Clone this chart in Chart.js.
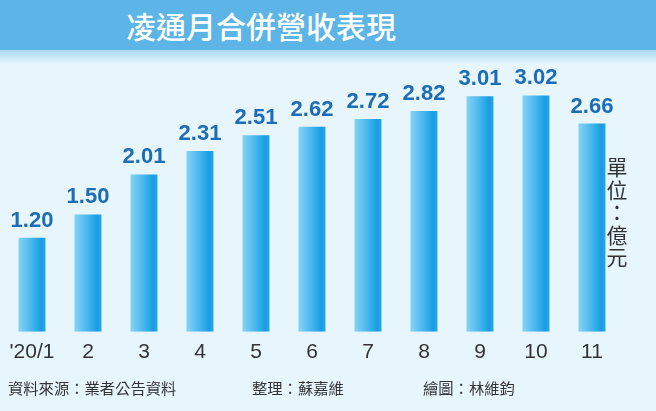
<!DOCTYPE html>
<html><head><meta charset="utf-8">
<script src="https://cdn.jsdelivr.net/npm/chart.js@4/dist/chart.umd.min.js"></script>
<style>
html,body{margin:0;padding:0;}
body{width:656px;height:411px;position:relative;overflow:hidden;background:#e7f5fc;font-family:"Noto Sans CJK TC","Noto Sans",sans-serif;}
#bar{position:absolute;left:0;top:0;width:656px;height:50px;background:#5cb5e6;}
#fade{position:absolute;left:0;top:50px;width:656px;height:14px;background:linear-gradient(#a9d8f2,#e7f5fc);}
#title{position:absolute;left:0;top:0;width:522px;height:50px;line-height:50px;text-align:center;color:#fff;font-size:30px;font-weight:500;}
#wrap{position:absolute;left:0;top:0;width:656px;height:411px;}
#unit{position:absolute;left:605px;top:155px;width:24px;font-size:21px;line-height:22.5px;color:#333;text-align:center;}
.foot{position:absolute;top:377px;font-size:15.3px;line-height:20px;color:#333;white-space:nowrap;}
</style></head>
<body>
<div id="bar"></div><div id="fade"></div>
<div id="title">凌通月合併營收表現</div>
<div id="wrap"><canvas id="c" width="656" height="411"></canvas></div>
<div id="unit">單<br>位<br>：<br>億<br>元</div>
<div class="foot" style="left:8px">資料來源：業者公告資料</div>
<div class="foot" style="left:252px">整理：蘇嘉維</div>
<div class="foot" style="left:423px">繪圖：林維鈞</div>
<script>
const categories = ["'20/1","2","3","4","5","6","7","8","9","10","11"];
const revenue = [1.20,1.50,2.01,2.31,2.51,2.62,2.72,2.82,3.01,3.02,2.66];
const BAR_PCT = 0.48;

function barGradient(context){
  const chart = context.chart;
  const xs = chart.scales && chart.scales.x;
  if (!xs || context.dataIndex == null) return '#4ab9ee';
  const cx = xs.getPixelForValue(context.dataIndex);
  const step = xs.getPixelForValue(1) - xs.getPixelForValue(0);
  if (!isFinite(cx) || !isFinite(step) || step <= 0) return '#4ab9ee';
  const w = step * BAR_PCT;
  const g = chart.ctx.createLinearGradient(cx - w/2, 0, cx + w/2, 0);
  g.addColorStop(0,'#86d3f4');
  g.addColorStop(0.45,'#4ab9ee');
  g.addColorStop(0.85,'#179ce2');
  g.addColorStop(1,'#2aa6e6');
  return g;
}

const labelPlugin = {
  id:'vals',
  afterDatasetsDraw(chart){
    const ctx = chart.ctx;
    ctx.save();
    ctx.fillStyle = '#1c6db6';
    ctx.font = 'bold 22px "Liberation Sans", Arial, sans-serif';
    ctx.textAlign = 'center';
    ctx.textBaseline = 'alphabetic';
    chart.getDatasetMeta(0).data.forEach((b,i)=>{
      ctx.fillText(revenue[i].toFixed(2), b.x, b.y - 11);
    });
    ctx.restore();
  }
};

const chart = new Chart(document.getElementById('c'), {
  type:'bar',
  data:{labels:categories, datasets:[{data:revenue, backgroundColor:barGradient, borderWidth:0, barPercentage:BAR_PCT, categoryPercentage:1}]},
  options:{
    responsive:false, animation:false,
    layout:{padding:{left:4,right:36,top:50,bottom:38}},
    plugins:{legend:{display:false}, tooltip:{enabled:false}},
    scales:{
      x:{grid:{display:false,drawTicks:false}, border:{display:false},
         ticks:{color:'#333', padding:8, font:{family:'"Liberation Sans", Arial, sans-serif', size:21}, maxRotation:0, autoSkip:false}},
      y:{display:false, min:0, max:3.6}
    }
  },
  plugins:[labelPlugin]
});
chart.update();
</script>
</body></html>
